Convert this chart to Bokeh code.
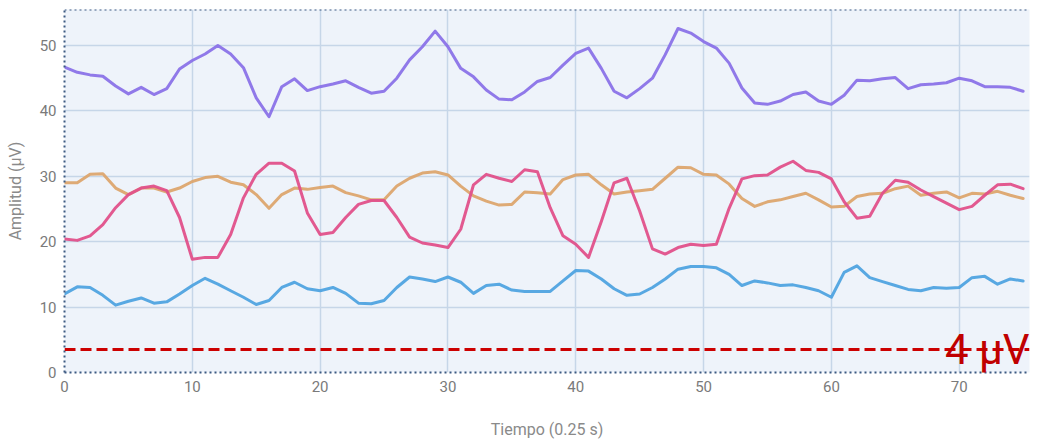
from bokeh.plotting import figure
from bokeh.models import Range1d, Span, Label, FixedTicker
from bokeh.embed import file_html
from bokeh.resources import INLINE

# Time index (samples of 0.25 s)
t = list(range(76))

purple = [46.7, 45.9, 45.5, 45.3, 43.8, 42.6, 43.6, 42.5, 43.4, 46.4,
          47.7, 48.7, 50.0, 48.7, 46.6, 42.0, 39.1, 43.7, 44.9, 43.1,
          43.7, 44.1, 44.6, 43.6, 42.7, 43.0, 45.0, 47.8, 49.8, 52.2,
          49.8, 46.5, 45.2, 43.2, 41.8, 41.7, 42.9, 44.5, 45.1, 47.0,
          48.8, 49.6, 46.5, 43.0, 42.0, 43.4, 45.0, 48.6, 52.6, 51.9,
          50.6, 49.6, 47.3, 43.5, 41.2, 41.0, 41.5, 42.5, 42.9, 41.5,
          41.0, 42.4, 44.7, 44.6, 44.9, 45.1, 43.4, 44.0, 44.1, 44.3,
          45.0, 44.6, 43.7, 43.7, 43.6, 43.0]

pink = [20.4, 20.2, 20.9, 22.6, 25.2, 27.2, 28.2, 28.5, 27.8, 23.7,
        17.3, 17.6, 17.6, 21.1, 26.7, 30.3, 32.0, 32.0, 30.8, 24.4,
        21.1, 21.4, 23.7, 25.7, 26.3, 26.3, 23.7, 20.7, 19.8, 19.5,
        19.1, 21.9, 28.7, 30.3, 29.7, 29.2, 31.0, 30.7, 25.2, 20.9,
        19.6, 17.6, 23.1, 29.0, 29.7, 24.7, 18.9, 18.1, 19.1, 19.6,
        19.4, 19.6, 25.1, 29.6, 30.1, 30.2, 31.4, 32.3, 30.9, 30.6,
        29.6, 26.1, 23.6, 23.9, 27.4, 29.4, 29.1, 27.9, 26.9, 25.9,
        24.9, 25.4, 27.1, 28.7, 28.8, 28.1]

orange = [29.0, 29.0, 30.3, 30.4, 28.2, 27.2, 28.2, 28.2, 27.6, 28.2,
          29.2, 29.8, 30.0, 29.1, 28.7, 27.2, 25.1, 27.2, 28.2, 28.0,
          28.3, 28.5, 27.5, 27.0, 26.4, 26.4, 28.5, 29.7, 30.5, 30.7,
          30.2, 28.5, 27.0, 26.2, 25.6, 25.7, 27.6, 27.5, 27.3, 29.5,
          30.2, 30.3, 28.7, 27.3, 27.6, 27.8, 28.0, 29.7, 31.4, 31.3,
          30.3, 30.2, 28.8, 26.6, 25.4, 26.1, 26.4, 26.9, 27.4, 26.4,
          25.3, 25.4, 26.9, 27.3, 27.4, 28.1, 28.5, 27.1, 27.4, 27.6,
          26.7, 27.4, 27.3, 27.7, 27.1, 26.6]

blue = [12.0, 13.1, 13.0, 11.8, 10.3, 10.9, 11.4, 10.6, 10.8, 12.0,
        13.3, 14.4, 13.5, 12.5, 11.5, 10.4, 11.0, 13.0, 13.8, 12.8,
        12.5, 13.0, 12.1, 10.6, 10.5, 11.0, 13.0, 14.6, 14.3, 13.9,
        14.6, 13.8, 12.1, 13.3, 13.5, 12.6, 12.4, 12.4, 12.4, 14.0,
        15.6, 15.5, 14.3, 12.8, 11.8, 12.0, 13.0, 14.3, 15.8, 16.2,
        16.2, 16.0, 15.0, 13.3, 14.0, 13.7, 13.3, 13.4, 13.0, 12.5,
        11.5, 15.3, 16.3, 14.5, 13.9, 13.3, 12.7, 12.5, 13.0, 12.9,
        13.0, 14.5, 14.7, 13.5, 14.3, 14.0]

series_colors = ["#4FA3E0", "#DCA56E", "#E0508A", "#8A72E8"]
threshold = 3.5
threshold_label = "4 µV"
x_ticks = [0, 10, 20, 30, 40, 50, 60, 70]
y_ticks = [0, 10, 20, 30, 40, 50]
x_max, y_max = 75.5, 55.5

p = figure(width=1037, height=441, output_backend="svg", toolbar_location=None,
           x_range=Range1d(0, x_max), y_range=Range1d(0, y_max),
           min_border_left=64, min_border_right=8, min_border_top=9, min_border_bottom=69)

p.border_fill_color = "white"
p.outline_line_color = None
p.background_fill_color = "#EEF3FA"

for ys, c in zip([blue, orange, pink, purple], series_colors):
    p.line(t, ys, line_color=c, line_width=3, line_join="round", line_cap="round", line_alpha=0.95)

# grid
p.xgrid.ticker = FixedTicker(ticks=x_ticks)
p.ygrid.ticker = FixedTicker(ticks=y_ticks)
for g in (p.xgrid, p.ygrid):
    g.grid_line_color = "#C6D6E8"
    g.grid_line_width = 1.5

# axes
p.xaxis.ticker = FixedTicker(ticks=x_ticks)
p.yaxis.ticker = FixedTicker(ticks=y_ticks)
for ax in (p.xaxis, p.yaxis):
    ax.major_tick_line_color = None
    ax.minor_tick_line_color = None
    ax.major_label_text_font = "Roboto"
    ax.major_label_text_font_size = "15px"
    ax.major_label_text_color = "#7A7A7A"
    ax.axis_label_text_font = "Roboto"
    ax.axis_label_text_font_size = "16px"
    ax.axis_label_text_font_style = "normal"
    ax.axis_label_text_color = "#8A8A8A"
    ax.axis_line_dash = "2 3"
    ax.axis_line_width = 2
    ax.axis_line_color = "#3C5A82"
    ax.major_label_standoff = 2

p.xaxis.axis_label = "Tiempo (0.25 s)"
p.yaxis.axis_label = "Amplitud (µV)"
p.xaxis.axis_label_standoff = 25
p.yaxis.axis_label_standoff = 12

# top dotted border
p.add_layout(Span(location=y_max, dimension="width", line_color="#3C5A82",
                  line_width=2, line_dash="2 3"))

# threshold line + label
p.add_layout(Span(location=threshold, dimension="width", line_color="#CC0000",
                  line_width=3, line_dash="11 5"))
p.add_layout(Label(x=x_max, y=threshold, text=threshold_label, text_color="#C00000",
                   text_font="Roboto", text_font_size="42px", text_baseline="alphabetic",
                   text_align="right"))

open("out.html", "w").write(file_html(p, INLINE))
